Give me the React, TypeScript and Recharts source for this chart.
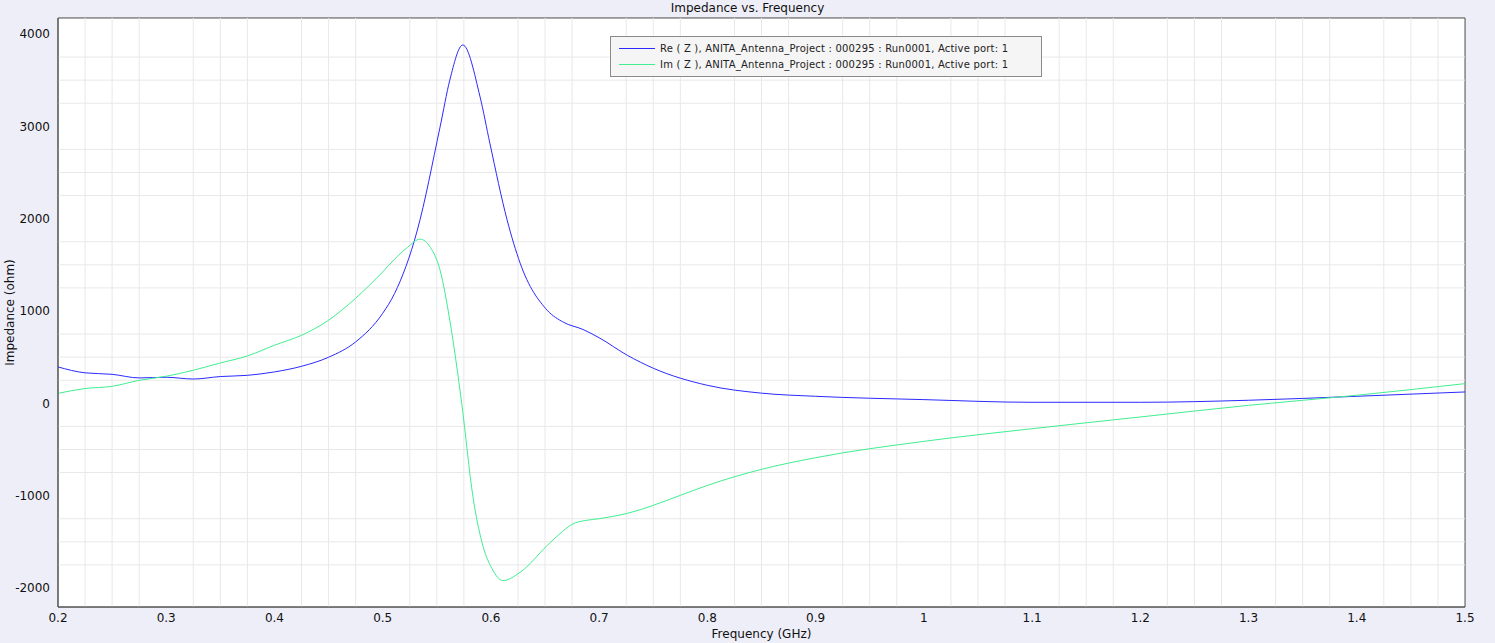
import { CartesianGrid, Line, LineChart, ReferenceArea, ReferenceLine, XAxis, YAxis } from "recharts";

const freqRe = [0.2, 0.225, 0.25, 0.275, 0.3, 0.325, 0.35, 0.375, 0.4, 0.425, 0.45, 0.475, 0.5, 0.511, 0.532, 0.553, 0.562, 0.574, 0.59, 0.599, 0.615, 0.627, 0.652, 0.667, 0.685, 0.7, 0.726, 0.75, 0.8, 0.85, 0.9, 1.0, 1.1, 1.2, 1.3, 1.4, 1.5];
const reZ = [394, 330, 314, 275, 282, 263, 290, 303, 340, 401, 499, 665, 975, 1190, 1875, 2992, 3500, 3881, 3317, 2818, 1984, 1518, 1008, 878, 800, 710, 520, 380, 195, 110, 76, 40, 11, 11, 33, 76, 123];

const freqIm = [0.2, 0.225, 0.25, 0.275, 0.3, 0.325, 0.35, 0.375, 0.4, 0.425, 0.45, 0.475, 0.5, 0.511, 0.523, 0.5345, 0.544, 0.553, 0.562, 0.573, 0.5835, 0.593, 0.601, 0.611, 0.627, 0.652, 0.663, 0.675, 0.688, 0.7, 0.726, 0.775, 0.8, 0.85, 0.9, 1.0, 1.1, 1.2, 1.3, 1.4, 1.5];
const imZ = [108, 160, 184, 249, 293, 358, 437, 513, 629, 737, 900, 1138, 1423, 1561, 1690, 1778, 1690, 1442, 900, 0, -1020, -1560, -1790, -1920, -1830, -1540, -1420, -1310, -1268, -1250, -1192, -997, -889, -715, -589, -412, -275, -148, -22, 87, 213];

const xTicks = [0.2, 0.3, 0.4, 0.5, 0.6, 0.7, 0.8, 0.9, 1, 1.1, 1.2, 1.3, 1.4, 1.5];
const yTicks = [-2000, -1000, 0, 1000, 2000, 3000, 4000];
const xMinor = Array.from({ length: 53 }, (_, i) => +(0.2 + i * 0.025).toFixed(3)).filter((v) => !xTicks.some((t) => Math.abs(t - v) < 1e-6));
const yMinor = Array.from({ length: 26 }, (_, i) => -2000 - 250 + i * 250).filter((v) => v % 1000 !== 0 && v > -2206);

const reLabel = "Re ( Z ), ANITA_Antenna_Project : 000295 : Run0001, Active port: 1";
const imLabel = "Im ( Z ), ANITA_Antenna_Project : 000295 : Run0001, Active port: 1";

const reColor = "#2a2aff";
const imColor = "#40ee90";
const font = "'DejaVu Sans', sans-serif";

function LegendBox() {
  const row = (color: string, text: string) => (
    <div style={{ display: "flex", alignItems: "center", height: 16 }}>
      <div style={{ width: 36, height: 1, background: color, marginRight: 5 }} />
      <span>{text}</span>
    </div>
  );
  return (
    <div
      style={{
        position: "absolute",
        left: 610,
        top: 36,
        background: "#f5f5f5",
        border: "1px solid #8a8a8a",
        padding: "3px 8px 4px 8px",
        fontSize: 10,
        fontFamily: font,
        color: "#222",
        width: 414,
        letterSpacing: 0.2,
      }}
    >
      {row(reColor, reLabel)}
      {row(imColor, imLabel)}
    </div>
  );
}

export default function App() {
  const reData = freqRe.map((f, i) => ({ f, v: reZ[i] }));
  const imData = freqIm.map((f, i) => ({ f, v: imZ[i] }));
  return (
    <div style={{ position: "absolute", left: 0, top: 0, width: 1495, height: 643, background: "#eeeef8", fontFamily: font }}>
      <div style={{ position: "absolute", top: 1, width: 1495, textAlign: "center", fontSize: 12, color: "#111" }}>
        Impedance vs. Frequency
      </div>
      <LineChart width={1495} height={643} margin={{ top: 18, right: 30, left: 0, bottom: 0 }}>
        <ReferenceArea x1={0.2} x2={1.5} y1={-2206} y2={4173} fill="#ffffff" fillOpacity={1} stroke="none" />
        {xMinor.map((v) => (
          <ReferenceLine key={`xm${v}`} x={v} stroke="#e8e8e8" strokeWidth={1} />
        ))}
        {yMinor.map((v) => (
          <ReferenceLine key={`ym${v}`} y={v} stroke="#e8e8e8" strokeWidth={1} />
        ))}
        <CartesianGrid stroke="#c4c4c4" strokeWidth={1} />
        <XAxis
          type="number"
          dataKey="f"
          domain={[0.2, 1.5]}
          ticks={xTicks}
          allowDataOverflow
          height={36}
          tickLine={false}
          axisLine={{ stroke: "#555" }}
          tick={{ fontSize: 12, fill: "#111", fontFamily: font, dy: -2 }}
          label={{ value: "Frequency (GHz)", position: "insideBottom", offset: 5, fontSize: 12, fill: "#111", fontFamily: font }}
        />
        <YAxis
          type="number"
          domain={[-2206, 4173]}
          ticks={yTicks}
          allowDataOverflow
          width={58}
          tickLine={false}
          axisLine={{ stroke: "#555" }}
          tick={{ fontSize: 12, fill: "#111", fontFamily: font }}
          label={(p: any) => {
            const vb = p.viewBox || {};
            const cx = 10;
            const cy = (vb.y ?? 18) + (vb.height ?? 589) / 2;
            return (
              <text x={cx} y={cy} transform={`rotate(-90 ${cx} ${cy})`} textAnchor="middle" dominantBaseline="central" fontSize={12} fill="#111" fontFamily={font}>
                Impedance (ohm)
              </text>
            );
          }}
        />
        <ReferenceArea x1={0.2} x2={1.5} y1={-2206} y2={4173} fill="none" stroke="#555" strokeWidth={1} />
        <Line data={reData} dataKey="v" name={reLabel} type="monotone" stroke={reColor} strokeWidth={1} dot={false} isAnimationActive={false} />
        <Line data={imData} dataKey="v" name={imLabel} type="monotone" stroke={imColor} strokeWidth={1} dot={false} isAnimationActive={false} />
      </LineChart>
      <LegendBox />
    </div>
  );
}
